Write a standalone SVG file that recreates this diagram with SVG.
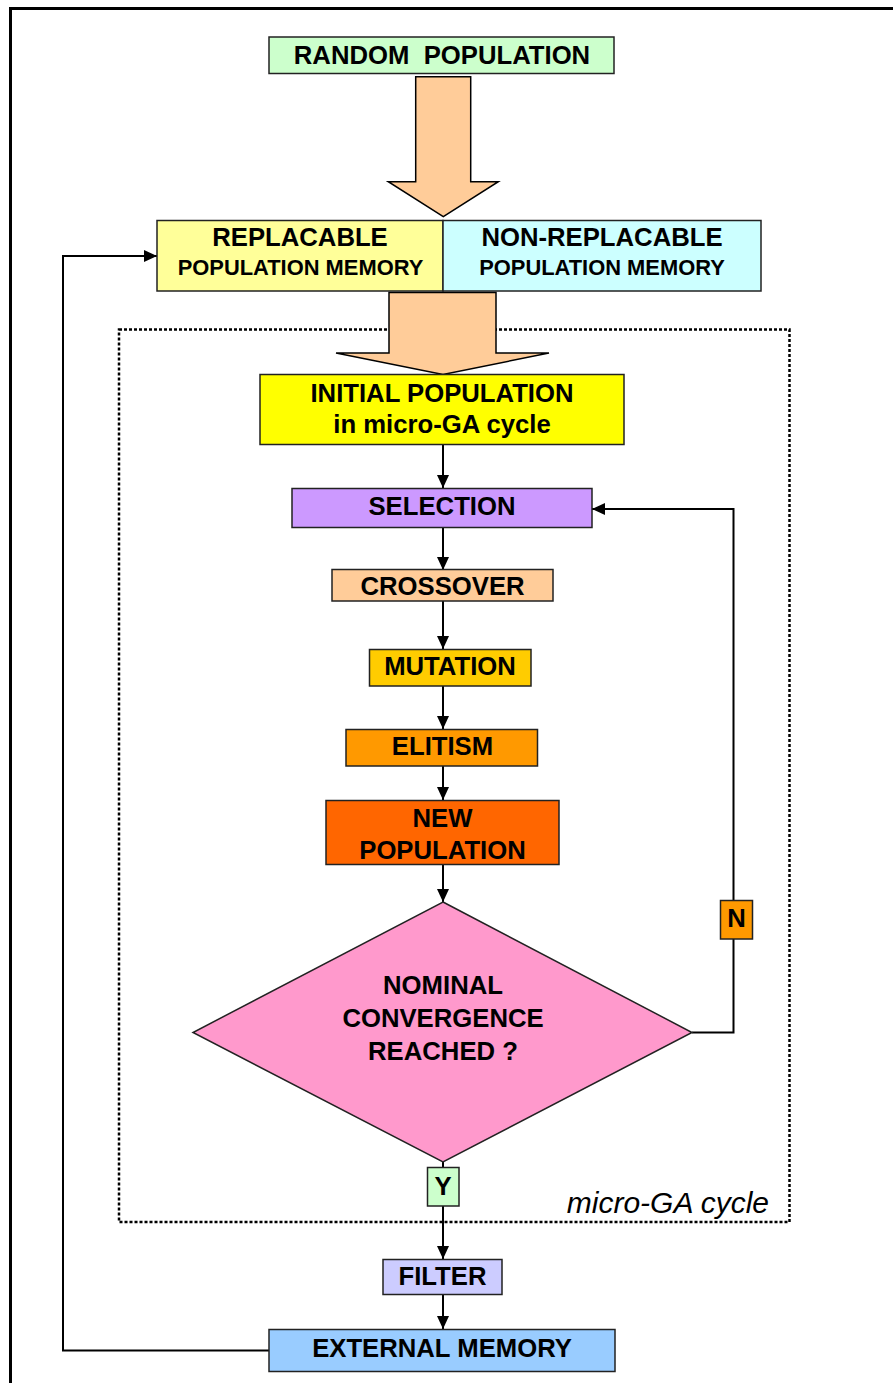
<svg xmlns="http://www.w3.org/2000/svg" width="893" height="1383" viewBox="0 0 893 1383">
<defs>
<style>
.box{stroke:#222;stroke-width:1.5}
.lbl{font-family:"Liberation Sans",Arial,sans-serif;font-weight:bold;font-size:25.7px;fill:#000;text-anchor:middle}
.sm{font-size:21.9px}
.conn{fill:none;stroke:#000;stroke-width:2}
.blk{fill:#ffcc99;stroke:#000;stroke-width:1.5;stroke-linejoin:miter}
</style>
<marker id="ah" markerUnits="userSpaceOnUse" markerWidth="14" markerHeight="14" viewBox="0 0 14 14" refX="13" refY="7" orient="auto">
<path d="M0,1 L13,7 L0,13 Z" fill="#000"/>
</marker>
</defs>
<rect width="893" height="1383" fill="#fff"/>
<rect x="10.5" y="8.5" width="900" height="1400" fill="none" stroke="#000" stroke-width="3"/>
<rect id="cycle-frame" x="119" y="329.5" width="670.5" height="892.5" fill="none" stroke="#000" stroke-width="2.5" stroke-dasharray="3 2"/>
<text x="769" y="1213" text-anchor="end" font-family="'Liberation Sans',Arial,sans-serif" font-style="italic" font-size="30">micro-GA cycle</text>

<g id="connectors">
<path class="conn" d="M443,444 V488" marker-end="url(#ah)"/>
<path class="conn" d="M443,527 V570" marker-end="url(#ah)"/>
<path class="conn" d="M443,601 V649" marker-end="url(#ah)"/>
<path class="conn" d="M443,686 V729" marker-end="url(#ah)"/>
<path class="conn" d="M443,766 V800" marker-end="url(#ah)"/>
<path class="conn" d="M443,865 V902" marker-end="url(#ah)"/>
<path class="conn" d="M692,1032.5 H733.5 V509 H592" marker-end="url(#ah)"/>
<path class="conn" d="M443,1162 V1259" marker-end="url(#ah)"/>
<path class="conn" d="M443,1294 V1329" marker-end="url(#ah)"/>
<path class="conn" d="M269,1350.5 H63 V256 H157" marker-end="url(#ah)"/>
</g>

<g id="random-population">
<rect class="box" x="269" y="37" width="345" height="36.5" fill="#ccffcc"/>
<text class="lbl" x="442" y="63.5" xml:space="preserve">RANDOM  POPULATION</text>
</g>
<g id="block-arrow-1">
<path class="blk" d="M415.7,76.7 H470.7 V181.7 H498.3 L443.3,216.7 L388.3,181.7 H415.7 Z"/>
</g>
<g id="replacable-memory">
<rect class="box" x="157" y="220.5" width="286" height="70.5" fill="#ffff99"/>
<text class="lbl" x="300" y="246">REPLACABLE</text>
<text class="lbl sm" x="300.5" y="274.5">POPULATION MEMORY</text>
</g>
<g id="non-replacable-memory">
<rect class="box" x="443" y="220.5" width="318" height="70.5" fill="#ccffff"/>
<text class="lbl" x="602" y="246">NON-REPLACABLE</text>
<text class="lbl sm" x="602" y="274.5">POPULATION MEMORY</text>
</g>
<g id="block-arrow-2">
<path class="blk" d="M389,292.5 H496 V353 H549 L443,374.5 L336,353 H389 Z"/>
</g>
<g id="initial-population">
<rect class="box" x="260" y="374.5" width="364" height="70" fill="#ffff00"/>
<text class="lbl" x="442" y="401.5">INITIAL POPULATION</text>
<text class="lbl" x="442" y="432.5">in micro-GA cycle</text>
</g>
<g id="selection">
<rect class="box" x="292" y="488.5" width="300" height="39" fill="#cc99ff"/>
<text class="lbl" x="442" y="515">SELECTION</text>
</g>
<g id="crossover">
<rect class="box" x="332" y="569.5" width="221" height="31.5" fill="#ffcc99"/>
<text class="lbl" x="442.5" y="594.5">CROSSOVER</text>
</g>
<g id="mutation">
<rect class="box" x="369.5" y="649.5" width="161.5" height="36.5" fill="#ffcc00"/>
<text class="lbl" x="450" y="675">MUTATION</text>
</g>
<g id="elitism">
<rect class="box" x="346" y="729.5" width="191.5" height="36.5" fill="#ff9900"/>
<text class="lbl" x="442.5" y="755">ELITISM</text>
</g>
<g id="new-population">
<rect class="box" x="326" y="800.5" width="233" height="64" fill="#ff6600"/>
<text class="lbl" x="442.5" y="827">NEW</text>
<text class="lbl" x="442.5" y="858.5">POPULATION</text>
</g>
<g id="convergence">
<path class="box" d="M443,902 L692,1032.5 L443,1162 L193,1032.5 Z" fill="#ff99cc"/>
<text class="lbl" x="443" y="994">NOMINAL</text>
<text class="lbl" x="443" y="1027">CONVERGENCE</text>
<text class="lbl" x="443" y="1060">REACHED ?</text>
</g>
<g id="label-n">
<rect class="box" x="720.5" y="900.5" width="32" height="38.5" fill="#ff9900"/>
<text class="lbl" x="736.5" y="927" font-size="24">N</text>
</g>
<g id="label-y">
<rect class="box" x="427.5" y="1167.5" width="31.5" height="38.5" fill="#ccffcc"/>
<text class="lbl" x="443" y="1195" font-size="24">Y</text>
</g>
<g id="filter">
<rect class="box" x="383" y="1259.5" width="119" height="35" fill="#ccccff"/>
<text class="lbl" x="442.5" y="1285">FILTER</text>
</g>
<g id="external-memory">
<rect class="box" x="269" y="1329.5" width="346" height="42" fill="#99ccff"/>
<text class="lbl" x="442" y="1357">EXTERNAL MEMORY</text>
</g>
</svg>
